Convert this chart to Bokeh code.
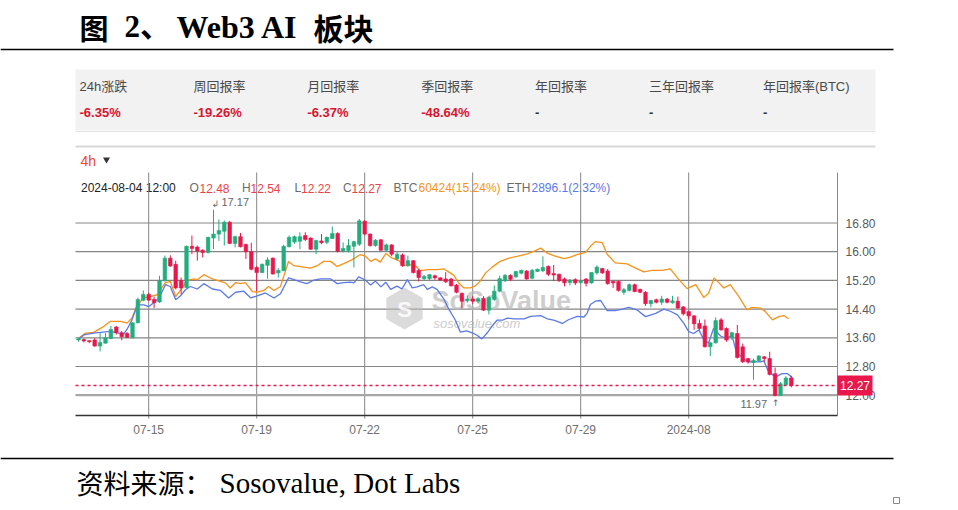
from bokeh.plotting import figure
from bokeh.models import Range1d, ColumnDataSource
from bokeh.core.properties import value
from bokeh.embed import file_html
from bokeh.resources import INLINE

# ---------------- data ----------------
open_ = [13.54, 13.55, 13.52, 13.54, 13.37, 13.45, 13.58, 13.90, 13.74, 13.72,
         13.60, 14.02, 14.65, 14.81, 14.67, 14.60, 15.19, 15.82, 15.65, 15.20,
         15.00, 16.15, 16.13, 16.04, 15.98, 16.38, 16.49, 16.57, 16.82, 16.23,
         16.42, 16.20, 16.00, 15.56, 15.42, 15.62, 15.82, 15.41, 15.47, 16.14,
         16.27, 16.29, 16.45, 16.38, 16.07, 16.30, 16.26, 16.37, 16.51, 16.02,
         16.03, 16.15, 16.21, 16.85, 16.49, 16.17, 16.33, 16.04, 16.19, 15.80,
         15.91, 15.61, 15.75, 15.48, 15.25, 15.25, 15.33, 15.27, 15.24, 15.24,
         15.07, 14.84, 14.63, 14.68, 14.62, 14.70, 14.37, 14.67, 14.90, 15.19,
         15.34, 15.30, 15.40, 15.46, 15.26, 15.45, 15.47, 15.59, 15.39, 15.37,
         15.24, 15.14, 15.22, 15.14, 15.24, 15.13, 15.41, 15.53, 15.46, 15.17,
         15.17, 14.87, 14.92, 15.08, 14.95, 14.87, 14.55, 14.66, 14.59, 14.68,
         14.58, 14.62, 14.46, 14.33, 14.21, 14.00, 13.93, 13.35, 13.46, 14.10,
         13.86, 13.61, 13.72, 13.35, 13.02, 12.91, 12.96, 13.07, 13.02, 12.60,
         11.99, 12.29, 12.48]
high = [13.60, 13.58, 13.53, 13.59, 13.73, 13.73, 13.93, 13.93, 13.79, 13.76,
        14.03, 14.72, 14.92, 14.86, 14.74, 15.33, 15.89, 15.90, 15.75, 15.28,
        16.17, 16.45, 16.17, 16.07, 16.42, 17.17, 16.90, 16.87, 16.86, 16.45,
        16.52, 16.23, 16.25, 15.60, 15.67, 15.84, 15.84, 15.54, 16.19, 16.45,
        16.45, 16.54, 16.54, 16.40, 16.33, 16.49, 16.42, 16.70, 16.54, 16.26,
        16.35, 16.31, 16.91, 16.88, 16.51, 16.35, 16.35, 16.23, 16.21, 16.00,
        15.95, 15.89, 15.77, 15.51, 15.35, 15.38, 15.36, 15.29, 15.43, 15.27,
        15.10, 14.86, 14.78, 14.76, 14.73, 14.76, 14.76, 15.06, 15.33, 15.38,
        15.37, 15.46, 15.50, 15.49, 15.52, 15.53, 15.87, 15.62, 15.63, 15.39,
        15.28, 15.24, 15.26, 15.20, 15.26, 15.42, 15.62, 15.55, 15.52, 15.20,
        15.20, 14.99, 15.11, 15.11, 14.97, 14.90, 14.66, 14.69, 14.77, 14.71,
        14.77, 14.75, 14.49, 14.36, 14.24, 14.11, 14.11, 13.49, 14.17, 14.15,
        13.89, 13.77, 13.96, 13.44, 13.04, 13.02, 13.12, 13.09, 13.21, 12.77,
        12.37, 12.53, 12.54]
low = [13.49, 13.47, 13.45, 13.35, 13.22, 13.44, 13.56, 13.69, 13.53, 13.60,
       13.59, 14.00, 14.62, 14.64, 14.43, 14.57, 15.17, 15.58, 14.95, 14.81,
       14.98, 15.93, 15.75, 15.84, 15.95, 16.07, 16.30, 16.17, 16.21, 16.12,
       16.12, 15.80, 15.48, 14.90, 15.40, 15.25, 15.36, 15.28, 15.46, 16.12,
       16.22, 16.07, 16.30, 16.05, 15.93, 16.21, 16.21, 16.35, 15.98, 15.98,
       15.98, 15.56, 16.16, 16.45, 16.14, 16.14, 16.02, 16.00, 15.88, 15.75,
       15.58, 15.58, 15.39, 15.17, 15.20, 15.20, 15.22, 15.19, 15.13, 15.03,
       14.84, 14.42, 14.58, 14.55, 14.56, 14.35, 14.25, 14.63, 14.87, 15.15,
       15.18, 15.27, 15.37, 15.22, 15.23, 15.43, 15.43, 15.32, 15.18, 15.16,
       15.03, 15.06, 15.07, 15.10, 15.03, 15.11, 15.36, 15.38, 15.08, 14.99,
       14.89, 14.80, 14.89, 14.87, 14.84, 14.49, 14.45, 14.56, 14.52, 14.56,
       14.55, 14.40, 14.22, 14.11, 13.82, 13.82, 13.33, 13.09, 13.44, 13.80,
       13.49, 13.54, 13.02, 12.90, 12.88, 12.43, 12.93, 12.93, 12.55, 11.97,
       12.00, 12.26, 12.22]
close = [13.57, 13.51, 13.49, 13.37, 13.47, 13.60, 13.83, 13.74, 13.63, 13.61,
         14.02, 14.67, 14.81, 14.65, 14.58, 15.19, 15.82, 15.60, 14.99, 14.99,
         16.15, 16.09, 16.02, 15.98, 16.40, 16.49, 16.59, 16.82, 16.23, 16.42,
         16.14, 16.00, 15.51, 15.42, 15.65, 15.77, 15.38, 15.48, 16.15, 16.40,
         16.42, 16.42, 16.34, 16.07, 16.31, 16.25, 16.40, 16.51, 16.01, 16.09,
         16.17, 16.28, 16.86, 16.49, 16.17, 16.32, 16.04, 16.19, 15.93, 15.93,
         15.61, 15.75, 15.42, 15.28, 15.31, 15.36, 15.27, 15.21, 15.16, 15.05,
         14.87, 14.62, 14.68, 14.62, 14.69, 14.37, 14.72, 14.90, 15.25, 15.34,
         15.23, 15.45, 15.48, 15.24, 15.48, 15.51, 15.56, 15.37, 15.35, 15.19,
         15.13, 15.21, 15.13, 15.18, 15.12, 15.42, 15.57, 15.41, 15.11, 15.13,
         14.92, 14.94, 15.08, 14.89, 14.87, 14.55, 14.64, 14.59, 14.68, 14.59,
         14.63, 14.43, 14.27, 14.21, 13.99, 13.86, 13.35, 13.46, 14.08, 13.82,
         13.54, 13.74, 13.05, 12.93, 12.93, 12.97, 13.09, 13.02, 12.58, 11.99,
         12.32, 12.48, 12.27]

# BTC / ETH overlays, rebased to the token's price scale (candle index, value)
btc_t = [0, 1.3, 2.8, 4.7, 5.9, 7.8, 9.0, 9.9, 10.9, 12.1, 13.3, 14.6, 15.2, 16.1, 17.0,
         18.0, 19.2, 20.1, 21.4, 22.0, 23.2, 24.8, 26.3, 27.2, 28.1, 29.1, 30.0, 30.9,
         32.2, 33.1, 34.3, 35.2, 36.2, 37.4, 38.9, 39.9, 41.7, 43.0, 44.2, 45.4, 46.7,
         47.9, 49.1, 50.7, 52.2, 53.1, 54.1, 55.0, 55.9, 56.9, 58.1, 59.3, 60.2, 61.2,
         62.4, 63.3, 64.6, 66.4, 67.7, 68.6, 69.5, 70.4, 71.4, 72.6, 73.5, 74.4, 75.4,
         76.6, 78.1, 79.7, 81.2, 83.1, 84.3, 85.6, 86.8, 88.0, 89.9, 91.1, 92.3, 93.9,
         94.8, 95.7, 97.0, 97.9, 99.4, 101.6, 103.1, 104.7, 106.2, 108.1, 109.6, 110.9,
         112.7, 114.3, 115.8, 116.7, 117.7, 118.6, 119.5, 120.7, 122.3, 123.8, 124.7,
         126.3, 127.2, 128.5, 129.7, 130.6, 131.5]
btc_v = [13.59, 13.73, 13.75, 13.92, 14.06, 14.06, 14.01, 14.15, 14.52, 14.71, 14.75, 14.80,
         14.94, 15.14, 15.17, 14.75, 14.99, 15.20, 15.24, 15.22, 15.36, 15.24, 15.17, 15.13,
         14.99, 15.14, 15.11, 15.14, 14.89, 14.87, 14.92, 15.03, 14.92, 15.03, 15.73, 15.61,
         15.57, 15.54, 15.61, 15.73, 15.73, 15.59, 15.67, 15.78, 15.92, 15.88, 15.73, 15.80,
         15.71, 15.95, 15.82, 15.75, 15.61, 15.64, 15.61, 15.47, 15.50, 15.50, 15.52, 15.43,
         15.34, 15.13, 14.99, 14.99, 15.05, 15.18, 15.41, 15.57, 15.73, 15.82, 15.87, 15.94,
         16.01, 16.10, 15.96, 15.89, 15.81, 15.85, 15.92, 15.98, 16.15, 16.28, 16.25, 15.93,
         15.69, 15.66, 15.55, 15.44, 15.48, 15.48, 15.52, 15.27, 14.97, 15.08, 14.72, 14.85,
         15.27, 15.13, 14.99, 15.08, 14.75, 14.38, 14.45, 14.43, 14.33, 14.10, 14.19, 14.22,
         14.13]
eth_t = [0, 1.0, 2.8, 4.1, 5.9, 7.5, 8.4, 9.0, 9.9, 10.9, 12.1, 13.0, 13.9, 14.9, 16.1,
         17.0, 18.0, 18.9, 19.8, 20.7, 22.0, 23.2, 24.8, 26.3, 27.8, 29.1, 30.6, 31.9,
         33.1, 34.6, 36.2, 37.4, 38.9, 39.9, 41.1, 42.3, 43.6, 44.8, 46.7, 47.9, 49.1,
         50.4, 51.0, 51.9, 53.1, 54.1, 55.0, 56.0, 56.9, 57.8, 59.0, 59.9, 60.9, 61.8,
         62.7, 63.9, 64.6, 65.5, 66.4, 67.7, 68.6, 69.8, 70.7, 71.9, 72.9, 73.8, 74.7,
         75.7, 76.6, 77.5, 78.5, 79.4, 80.6, 82.5, 83.7, 85.6, 86.8, 88.0, 89.6, 90.8,
         92.4, 93.6, 94.2, 94.8, 95.7, 96.7, 97.9, 99.4, 100.7, 101.9, 103.4, 105.0,
         106.9, 108.4, 109.6, 110.9, 112.1, 113.0, 113.9, 114.9, 115.8, 116.7, 117.6,
         118.9, 120.1, 121.0, 121.9, 122.9, 123.8, 125.0, 126.3, 126.9, 127.8, 129.1,
         130.3, 131.3, 132.2]
eth_v = [13.56, 13.68, 13.73, 13.75, 13.78, 13.73, 13.71, 13.84, 14.10, 14.52, 14.52, 14.47,
         14.57, 14.71, 15.08, 15.03, 14.66, 14.77, 14.94, 15.03, 14.96, 15.11, 14.96, 14.92,
         14.71, 14.87, 14.90, 14.71, 14.77, 14.85, 14.71, 14.83, 15.27, 15.22, 15.16, 15.11,
         15.21, 15.24, 15.24, 15.11, 15.14, 15.15, 15.13, 15.30, 15.21, 15.07, 15.18, 15.02,
         15.15, 14.95, 15.04, 14.96, 15.22, 14.99, 15.02, 15.08, 14.95, 15.02, 14.95, 14.67,
         14.39, 14.09, 13.76, 13.79, 13.74, 13.67, 13.57, 13.74, 13.93, 14.09, 14.09, 14.15,
         14.13, 14.13, 14.20, 14.22, 14.13, 14.09, 14.00, 14.11, 14.20, 14.18, 14.29, 14.53,
         14.62, 14.64, 14.36, 14.36, 14.40, 14.45, 14.38, 14.19, 14.28, 14.40, 14.34, 14.24,
         14.00, 13.77, 13.72, 13.82, 13.54, 13.46, 13.86, 13.65, 13.58, 13.68, 13.16, 13.07,
         12.93, 12.93, 12.93, 12.96, 12.65, 12.51, 12.60, 12.60, 12.49]

price_ticks = [12.00, 12.80, 13.60, 14.40, 15.20, 16.00, 16.80]
price_tick_labels = ["12.00", "12.80", "13.60", "14.40", "15.20", "16.00", "16.80"]
date_ticks = [13, 33, 53, 73, 93, 113]
date_labels = ["07-15", "07-19", "07-22", "07-25", "07-29", "2024-08"]

stat_labels = ["24h涨跌", "周回报率", "月回报率", "季回报率", "年回报率", "三年回报率", "年回报率(BTC)"]
stat_values = ["-6.35%", "-19.26%", "-6.37%", "-48.64%", "-", "-", "-"]

title_parts = ["图", "2、", "Web3 AI", "板块"]
source_parts = ["资料来源：", "Sosovalue, Dot Labs"]
interval_label = "4h"
cursor_time = "2024-08-04 12:00"
ohlc_keys = ["O", "H", "L", "C"]
ohlc_vals = ["12.48", "12.54", "12.22", "12.27"]
btc_info = "60424(15.24%)"
eth_info = "2896.1(2.32%)"
high_mark = 17.17
low_mark = 11.97

# ---------------- layout constants (pixels) ----------------
W, H = 958, 510
CH_L, CH_R, CH_T, CH_B = 75, 837, 172, 415
X0, DX = 78.0, 5.4          # pixel of candle 0, pixels per candle
Y12, DY = 394.7, 35.875     # pixel of price 12.00, pixels per price unit

RED = "#e9174b"
GREEN = "#22ad7d"
ORANGE = "#f7931a"
BLUE = "#5b79e6"
GRID = "#858585"

SANS = value("Liberation Sans")
CJK = value("Noto Sans CJK SC")
SERIF_MIX = value("Liberation Serif, Noto Sans CJK SC")
SANS_MIX = value("Liberation Sans, Noto Sans CJK SC")

p = figure(width=W, height=H, x_range=Range1d(0, W), y_range=Range1d(H, 0),
           output_backend="svg", toolbar_location=None, min_border=0,
           x_axis_location=None, y_axis_location=None,
           outline_line_color=None, background_fill_color="white",
           border_fill_color="white")
p.grid.visible = False
p.extra_x_ranges = {"idx": Range1d((0 - X0) / DX, (W - X0) / DX)}
p.extra_y_ranges = {"px": Range1d(12 + (Y12 - H) / DY, 12 + Y12 / DY)}

# ---------------- title & rules ----------------
p.segment(x0=[0, 0], y0=[49, 458], x1=[893, 893], y1=[49, 458], line_color="black", line_width=1.5)
p.text(x=[79], y=[26], text=[title_parts[0]], text_font=CJK, text_font_style="bold",
       text_font_size="29px", text_baseline="middle", text_color="black")
p.text(x=[124], y=[26], text=[title_parts[1]], text_font=SERIF_MIX, text_font_style="bold",
       text_font_size="31px", text_baseline="middle", text_color="black")
p.text(x=[176], y=[26], text=[title_parts[2]], text_font=value("Liberation Serif"), text_font_style="bold",
       text_font_size="32px", text_baseline="middle", text_color="black")
p.text(x=[313], y=[26], text=[title_parts[3]], text_font=CJK, text_font_style="bold",
       text_font_size="30px", text_baseline="middle", text_color="black")

# ---------------- stats panel ----------------
p.quad(left=[75], right=[875], top=[69], bottom=[130], fill_color="#f2f2f2", line_color=None)
p.segment(x0=[75], y0=[131], x1=[875], y1=[131], line_color="#e2e2e2", line_width=1)
col_x = [79 + 113.9 * k for k in range(len(stat_labels))]
p.text(x=col_x, y=[86] * len(col_x), text=stat_labels, text_font=SANS_MIX, text_font_size="13px",
       text_baseline="middle", text_color="#4a4a4a")
p.text(x=col_x, y=[112] * len(col_x), text=stat_values, text_font=SANS, text_font_style="bold",
       text_font_size="13px", text_baseline="middle",
       text_color=[("#d9142f" if v != "-" else "#333333") for v in stat_values])

# ---------------- chart panel header ----------------
p.segment(x0=[75], y0=[146], x1=[875], y1=[146], line_color="#d8d8d8", line_width=2)
p.text(x=[80], y=[160], text=[interval_label], text_font=SANS, text_font_size="14px",
       text_baseline="middle", text_color="#f0452b")
p.scatter(x=[106], y=[159], marker="inverted_triangle", size=7, fill_color="#333333", line_color=None)

hdr_y = 187.5
p.text(x=[80.5], y=[hdr_y], text=[cursor_time], text_font=SANS, text_font_size="12px",
       text_baseline="middle", text_color="#222222")
p.text(x=[189, 241.5, 294, 342.5], y=[hdr_y] * 4, text=ohlc_keys, text_font=SANS,
       text_font_size="12px", text_baseline="middle", text_color="#6b6b6b")
p.text(x=[199, 250, 300.5, 351], y=[hdr_y] * 4, text=ohlc_vals, text_font=SANS,
       text_font_size="12px", text_baseline="middle", text_color="#ef3f4a")
p.text(x=[393, 506], y=[hdr_y] * 2, text=["BTC", "ETH"], text_font=SANS,
       text_font_size="12px", text_baseline="middle", text_color="#6b6b6b")
p.text(x=[418], y=[hdr_y], text=[btc_info], text_font=SANS, text_font_size="12px",
       text_baseline="middle", text_color=ORANGE)
p.text(x=[531], y=[hdr_y], text=[eth_info], text_font=SANS, text_font_size="12px",
       text_baseline="middle", text_color=BLUE)

# ---------------- grid & axes ----------------
p.segment(x0=date_ticks, x1=date_ticks, y0=[CH_T] * len(date_ticks), y1=[CH_B + 3] * len(date_ticks),
          x_range_name="idx", line_color=GRID, line_width=1)
main_ticks = price_ticks[1:]
p.segment(x0=[CH_L] * len(main_ticks), x1=[CH_R] * len(main_ticks), y0=main_ticks, y1=main_ticks,
          y_range_name="px", line_color=GRID, line_width=1.2)
p.segment(x0=[CH_L], x1=[CH_R], y0=price_ticks[:1], y1=price_ticks[:1],
          y_range_name="px", line_color="#a6a6a6", line_width=2.2)
p.segment(x0=[CH_R], x1=[CH_R], y0=[CH_T], y1=[CH_B], line_color="#8a8a8a", line_width=1)
p.segment(x0=[CH_L], x1=[CH_R], y0=[CH_B], y1=[CH_B], line_color="#333333", line_width=1.5)

p.text(x=date_ticks, y=[429] * len(date_ticks), text=date_labels, x_range_name="idx",
       text_font=SANS, text_font_size="12px", text_align="center", text_baseline="middle",
       text_color="#6f6f6f")
p.text(x=[CH_R + 8] * len(price_ticks), y=price_ticks, text=price_tick_labels, y_range_name="px",
       text_font=SANS, text_font_size="12px", text_baseline="middle", text_color="#5a5a5a")

# ---------------- watermark ----------------
p.scatter(x=[404], y=[308], marker="hex", size=42, angle=0.5236, fill_color="#bdbdbd",
          fill_alpha=0.55, line_color=None)
p.text(x=[404], y=[309], text=["S"], text_font=SANS, text_font_style="bold", text_font_size="22px",
       text_align="center", text_baseline="middle", text_color="white", text_alpha=0.85)
p.text(x=[431], y=[300], text=["SoSoValue"], text_font=SANS, text_font_style="bold",
       text_font_size="27px", text_baseline="middle", text_color="#b8b8b8", text_alpha=0.7)
p.text(x=[433], y=[323], text=["sosovalue.com"], text_font=SANS, text_font_style="italic",
       text_font_size="13px", text_baseline="middle", text_color="#b8b8b8", text_alpha=0.75)

# ---------------- overlays ----------------
p.line(x=btc_t, y=btc_v, x_range_name="idx", y_range_name="px", line_color=ORANGE, line_width=1.3)
p.line(x=eth_t, y=eth_v, x_range_name="idx", y_range_name="px", line_color=BLUE, line_width=1.3)

# ---------------- candles ----------------
n = len(close)
idx = list(range(n))
colors = [GREEN if c >= o else RED for o, c in zip(open_, close)]
src = ColumnDataSource(dict(
    x=idx, high=high, low=low,
    top=[max(o, c) for o, c in zip(open_, close)],
    bottom=[min(o, c) for o, c in zip(open_, close)],
    color=colors))
p.segment(x0="x", y0="low", x1="x", y1="high", source=src, x_range_name="idx", y_range_name="px",
          line_color="color", line_width=1)
p.vbar(x="x", width=0.66, top="top", bottom="bottom", source=src, x_range_name="idx",
       y_range_name="px", fill_color="color", line_color="color", line_width=0.6)

# extremes
hi_i = high.index(max(high))
lo_i = low.index(min(low))
p.text(x=[hi_i], y=[high_mark], text=[f"{high_mark:.2f}"], x_range_name="idx", y_range_name="px",
       x_offset=8, y_offset=-8, text_font=SANS, text_font_size="11px", text_baseline="middle",
       text_color="#666666")
p.text(x=[hi_i], y=[high_mark], text=["↲"], x_range_name="idx", y_range_name="px",
       x_offset=-2, y_offset=-6, text_font=value("DejaVu Sans"), text_font_size="9px",
       text_baseline="middle", text_color="#666666")
p.text(x=[lo_i], y=[low_mark], text=[f"{low_mark:.2f}"], x_range_name="idx", y_range_name="px",
       x_offset=-8, y_offset=8, text_font=SANS, text_font_size="11px", text_align="right",
       text_baseline="middle", text_color="#666666")
p.text(x=[lo_i], y=[low_mark], text=["↑"], x_range_name="idx", y_range_name="px",
       x_offset=-3, y_offset=7, text_font=value("DejaVu Sans"), text_font_size="9px",
       text_baseline="middle", text_color="#666666")

# last price line and tag
last = close[-1]
p.segment(x0=[CH_L], x1=[CH_R], y0=[last], y1=[last], y_range_name="px",
          line_color=RED, line_width=1.5, line_dash="3 3")
p.rect(x=[CH_R + 17.5], y=[last], width=35, height=20, height_units="screen", y_range_name="px",
       fill_color=RED, line_color=None)
p.text(x=[CH_R + 17.5], y=[last], text=[f"{last:.2f}"], y_range_name="px", text_font=SANS,
       text_font_size="12px", text_align="center", text_baseline="middle", text_color="white")

# ---------------- source ----------------
p.text(x=[76], y=[482], text=[source_parts[0]], text_font=CJK, text_font_size="27px",
       text_baseline="middle", text_color="black")
p.text(x=[219], y=[482], text=[source_parts[1]], text_font=value("Liberation Serif"),
       text_font_size="29px", text_baseline="middle", text_color="black")
p.rect(x=[896], y=[500], width=6, height=6, fill_color=None, line_color="#888888", line_width=1)

open("out.html", "w").write(file_html(p, INLINE))
